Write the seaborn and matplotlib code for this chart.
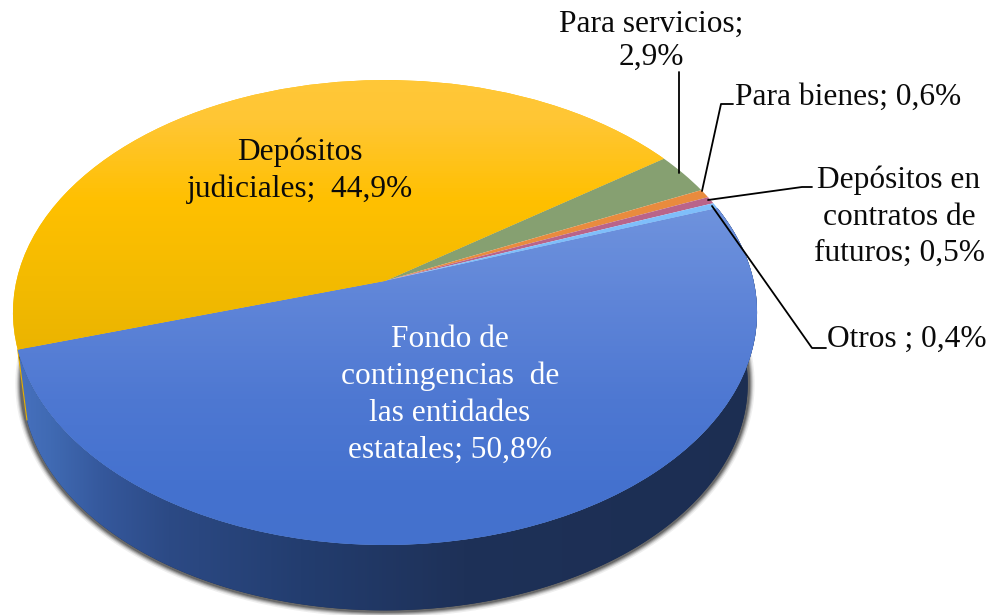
import numpy as np
import matplotlib
matplotlib.use("Agg")
import matplotlib.pyplot as plt
import seaborn as sns
from matplotlib.transforms import Transform
from matplotlib.colors import LinearSegmentedColormap as LSC
from matplotlib.patches import Polygon

categories = ["Fondo de contingencias de las entidades estatales", "Depósitos judiciales",
              "Para servicios", "Para bienes", "Depósitos en contratos de futuros", "Otros"]
values = [50.8, 44.9, 2.9, 0.6, 0.5, 0.4]
colors = ["#4472C4", "#FFC000", "#86A071", "#E98B3E", "#B9648A", "#7FBEFA"]
labels = ["Fondo de\ncontingencias  de\nlas entidades\nestatales; 50,8%",
          "Depósitos\njudiciales;  44,9%",
          "Para servicios;\n2,9%", "Para bienes; 0,6%",
          "Depósitos en\ncontratos de\nfuturos; 0,5%", "Otros ; 0,4%"]
label_xy = [(450, 395), (300, 171), (651, 41), (848, 97), (899, 217), (907, 339)]
label_colors = ["white", "#0A0A0A", "#0A0A0A", "#0A0A0A", "#0A0A0A", "#0A0A0A"]
label_spacing = [1.35, 1.33, 1.19, 1.0, 1.33, 1.0]
leaders = [[(679, 173), (679, 72)],
           [(702, 191), (721, 104), (733, 104)],
           [(708, 200), (802, 187), (812, 187)],
           [(712, 206), (812, 348), (826, 348)]]

sns.set_theme(style="white")
plt.rcParams["font.family"] = ["Liberation Serif", "DejaVu Serif"]

CX, CY, A, B, C = 385.0, 281.0, 0.1355, 228.2, 368.6
S, DY = 0.975, 72.0


class Persp(Transform):
    input_dims = output_dims = 2
    is_affine = False
    has_inverse = False

    def __init__(self, scale=1.0, dy=0.0):
        super().__init__()
        self.scale, self.dy = scale, dy

    def transform_non_affine(self, v):
        v = np.asarray(v, float)
        w = 1 + A * v[:, 1]
        return np.column_stack([CX + self.scale * C * v[:, 0] / w,
                                CY + self.dy - self.scale * B * v[:, 1] / w])


top, low = Persp(), Persp(S, DY)


def arc(tf, t0, t1, n=200):
    t = np.radians(np.linspace(t0, t1, n))
    return tf.transform_non_affine(np.column_stack([np.cos(t), np.sin(t)]))


fig = plt.figure(figsize=(9.9, 6.15), dpi=100, facecolor="white")
ax = fig.add_axes([0, 0, 1, 1])
wedges, _ = ax.pie(values, colors=sns.color_palette(colors), startangle=19.5,
                   counterclock=False, wedgeprops=dict(linewidth=0, zorder=5))
ax.set_aspect("auto")
for w in wedges:
    w.set_transform(top + ax.transData)

blue, yellow = wedges[0], wedges[1]
EXT = (0, 990, 615, 0)

# blurred shadow below the rim
rim = arc(low, 12, -200)
for lw, al in zip([10, 8, 6.5, 5, 3.5], [.08, .13, .2, .28, .4]):
    ax.plot(rim[:, 0], rim[:, 1], color="#303030", lw=lw, alpha=al, zorder=1,
            solid_capstyle="butt")

# rim of the pie
t_b = blue.theta2
side = np.vstack([arc(top, t_b, blue.theta1), arc(low, blue.theta1, t_b)])
poly = Polygon(side, closed=True, transform=ax.transData, fc="#1C2E52", ec="none", zorder=2)
ax.add_patch(poly)
side_cmap = LSC.from_list("side", [(0, "#4670BD"), (.04, "#406AB3"), (.11, "#35589C"),
                                   (.2, "#2C4A85"), (.38, "#233D6F"), (.6, "#1E3158"),
                                   (1, "#1C2E52")])
im = ax.imshow(np.linspace(0, 1, 256)[None, :], extent=(20, 760, 615, 0), cmap=side_cmap,
               aspect="auto", zorder=3, vmin=0, vmax=1)
im.set_clip_path(poly)
edge = np.vstack([arc(top, blue.theta1, blue.theta1, 1), arc(low, blue.theta1, blue.theta1, 1)])
ax.plot(edge[:, 0], edge[:, 1], color="#E8B000", lw=0.8, zorder=4)

# lit top face
yy = np.linspace(0, 1, 615)[:, None]
blue_cmap = LSC.from_list("b", [(0, "#7596E0"), (200 / 615, "#7094DE"), (300 / 615, "#5F85D8"),
                                (400 / 615, "#4E78D2"), (480 / 615, "#4572CF"), (1, "#4470CB")])
yel_cmap = LSC.from_list("y", [(0, "#FFCA40"), (120 / 615, "#FFC634"), (200 / 615, "#FFC000"),
                               (290 / 615, "#F2BA00"), (350 / 615, "#EBB400"), (1, "#EBB400")])
for w, cm in [(blue, blue_cmap), (yellow, yel_cmap)]:
    i = ax.imshow(yy, extent=EXT, cmap=cm, aspect="auto", zorder=6, vmin=0, vmax=1)
    i.set_clip_path(w)

ax.set_xlim(0, 990)
ax.set_ylim(615, 0)
ax.axis("off")

for pts in leaders:
    p = np.array(pts)
    ax.plot(p[:, 0], p[:, 1], color="black", lw=1.3, zorder=7)
for txt, (x, y), col, sp in zip(labels, label_xy, label_colors, label_spacing):
    ax.text(x, y, txt, ha="center", va="center", fontsize=22.6, color=col,
            linespacing=sp, zorder=8)

fig.savefig("out.png", dpi=100)
